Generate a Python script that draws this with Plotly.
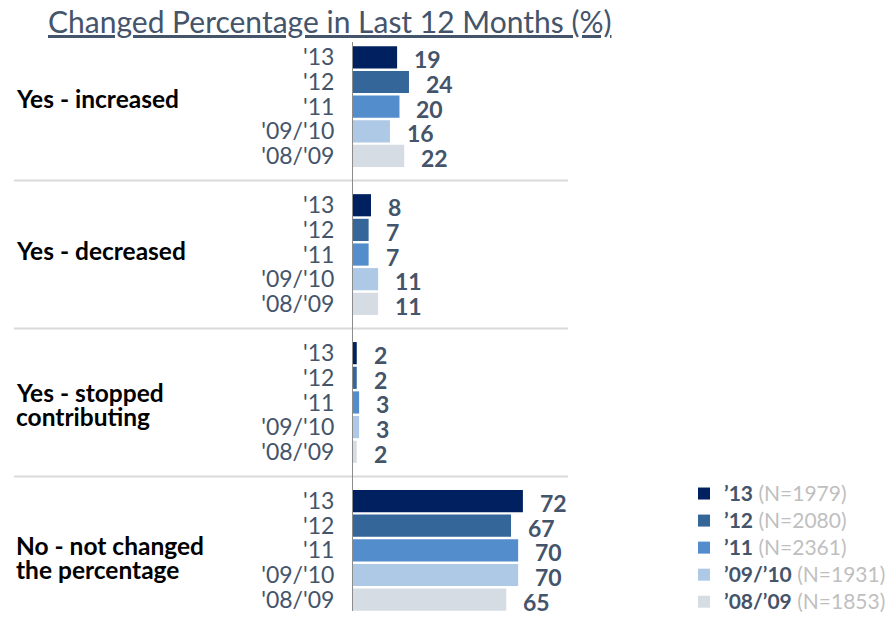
import plotly.graph_objects as go

categories = ["Yes - increased", "Yes - decreased", "Yes - stopped<br>contributing", "No - not changed<br>the percentage"]
years = ["'13", "'12", "'11", "'09/'10", "'08/'09"]
legend_years = ["’13", "’12", "’11", "’09/’10", "’08/’09"]
sample_sizes = ["N=1979", "N=2080", "N=2361", "N=1931", "N=1853"]
values = {
    "'13": [19, 8, 2, 72],
    "'12": [24, 7, 2, 67],
    "'11": [20, 7, 3, 70],
    "'09/'10": [16, 11, 3, 70],
    "'08/'09": [22, 11, 2, 65],
}
colors = ["#002060", "#34669A", "#538DCB", "#ADC9E6", "#D6DCE4"]

FONT = "Lato"
GRAY = "#44546A"

# page body has an 8px margin; work in reference pixel coords and subtract it
OFF = 8
W, H = 896 - OFF, 624 - OFF
plot_l, plot_r, plot_t, plot_b = 352 - OFF, 568 - OFF, 45 - OFF, 612 - OFF
pw = plot_r - plot_l
ph = plot_b - plot_t

def px_x(p):
    return (p - OFF - plot_l) / pw

def px_y(p):
    return (plot_b - (p - OFF)) / ph

n_groups = len(categories)
n_years = len(years)
slot = n_years + 1

def pos(g, i):
    return g * slot + i

fig = go.Figure()
annotations = []
for i, yr in enumerate(years):
    ys = [pos(g, i) for g in range(n_groups)]
    xs = values[yr]
    fig.add_trace(go.Bar(
        x=xs, y=ys, orientation="h", width=0.9,
        marker=dict(color=colors[i], line=dict(width=0)),
        name=(f"<span style='font-size:21px'><b><span style='color:{GRAY}'>{legend_years[i]}</span></b>"
              f" <span style='color:#BFBFBF'>({sample_sizes[i]})</span></span>"),
        hoverinfo="skip",
    ))
    for x, y in zip(xs, ys):
        annotations.append(dict(
            x=x, y=y, xref="x", yref="y", text=f"<b>{x}</b>", showarrow=False,
            xanchor="left", yanchor="middle", xshift=15, yshift=-2,
            font=dict(family=FONT, size=23, color=GRAY),
        ))

tickvals = [pos(g, i) for g in range(n_groups) for i in range(n_years)]
ticktext = [years[i] for g in range(n_groups) for i in range(n_years)]

label_shift = [8, 4, -2, -7]
for g, cat in enumerate(categories):
    lines = cat.split("<br>")
    n = len(lines)
    for k, line in enumerate(lines):
        annotations.append(dict(
            x=px_x(14), y=g * slot + 2, xref="paper", yref="y", text=f"<b>{line}</b>",
            showarrow=False, xanchor="left", yanchor="middle", align="left",
            yshift=label_shift[g] + ((n - 1) / 2 - k) * 24.5,
            font=dict(family=FONT, size=24.5, color="#000000"),
        ))

annotations.append(dict(
    x=px_x(329), y=px_y(21), xref="paper", yref="paper",
    text="<u>Changed Percentage in Last 12 Months (%)</u>",
    showarrow=False, xanchor="center", yanchor="middle",
    font=dict(family=FONT, size=30, color=GRAY),
))

shapes = []
for g in range(n_groups - 1):
    yy = g * slot + n_years
    shapes.append(dict(type="line", xref="paper", yref="y", x0=px_x(14), x1=1.0,
                       y0=yy, y1=yy, line=dict(color="#D9D9D9", width=2), layer="below"))
shapes.append(dict(type="line", xref="x", yref="paper", x0=0, x1=0, y0=px_y(611), y1=px_y(42),
                   line=dict(color="#8C8C8C", width=2), layer="above"))

fig.update_layout(
    width=W, height=H,
    margin=dict(l=plot_l, r=W - plot_r, t=plot_t, b=H - plot_b, pad=0, autoexpand=False),
    paper_bgcolor="white", plot_bgcolor="white",
    barmode="overlay",
    showlegend=True,
    legend=dict(
        x=px_x(684), y=px_y(475), xanchor="left", yanchor="top",
        font=dict(family=FONT, size=18.5, color=GRAY),
        tracegroupgap=0, itemclick=False, traceorder="normal",
        bgcolor="rgba(0,0,0,0)",
    ),
    xaxis=dict(range=[0, 91], visible=False, fixedrange=True),
    yaxis=dict(
        range=[n_groups * slot - 1.5, -0.5],
        tickvals=tickvals, ticktext=ticktext,
        showgrid=False, zeroline=False, showline=False,
        ticks="outside", ticklen=12, tickcolor="rgba(0,0,0,0)",
        tickfont=dict(family=FONT, size=23, color=GRAY),
        fixedrange=True,
    ),
    annotations=annotations,
    shapes=shapes,
)

fig.write_html("out.html")
